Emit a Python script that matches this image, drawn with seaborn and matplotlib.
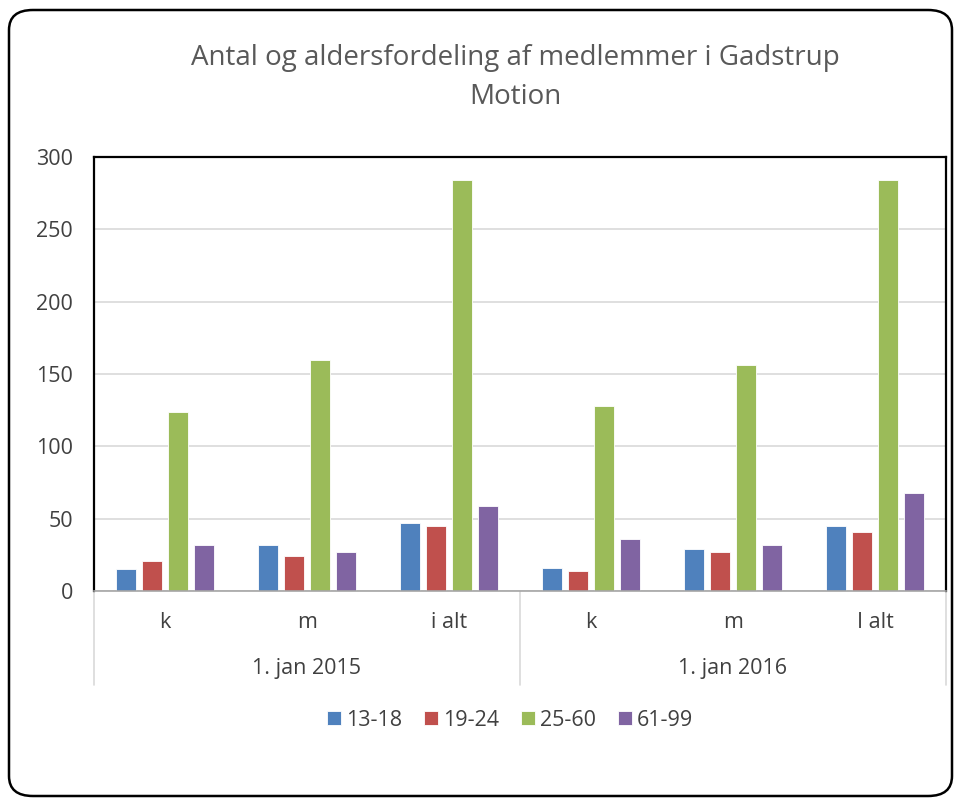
import pandas as pd
import matplotlib.pyplot as plt
import seaborn as sns
from matplotlib.patches import FancyBboxPatch
from matplotlib.lines import Line2D

# data
years = ['1. jan 2015', '1. jan 2016']
groups = ['k', 'm', 'i alt', 'k', 'm', 'I alt']
ages = ['13-18', '19-24', '25-60', '61-99']
v_13_18 = [15, 32, 47, 16, 29, 45]
v_19_24 = [21, 24, 45, 14, 27, 41]
v_25_60 = [124, 160, 284, 128, 156, 284]
v_61_99 = [32, 27, 59, 36, 32, 68]
colors = ['#4F81BD', '#C0504D', '#9BBB59', '#8064A2']

slots = [f'{i}' for i in range(len(groups))]
rows = []
for age, vals in zip(ages, [v_13_18, v_19_24, v_25_60, v_61_99]):
    for s, v in zip(slots, vals):
        rows.append({'slot': s, 'age': age, 'value': v})
df = pd.DataFrame(rows)

sns.set_style('white')
plt.rcParams['font.family'] = ['Open Sans', 'DejaVu Sans']

fig = plt.figure(figsize=(9.58, 7.98), dpi=100)
ax = fig.add_axes([94 / 958, 1 - 591 / 798, 852 / 958, 434 / 798])

sns.barplot(data=df, x='slot', y='value', hue='age', order=slots,
            palette=colors, saturation=1, width=0.73, gap=0.2, ax=ax,
            edgecolor='white', linewidth=0.6, legend=True)

ax.set_ylim(0, 300)
ax.set_yticks(range(0, 301, 50))
ax.yaxis.grid(True, color='#D9D9D9', linewidth=1.2)
ax.set_axisbelow(True)
ax.set_xlim(-0.5, len(groups) - 0.5)
ax.set_xticks(range(len(groups)))
ax.set_xticklabels(groups)
ax.tick_params(axis='x', length=0, pad=15, labelsize=15.5, labelcolor='#404040')
ax.tick_params(axis='y', length=0, pad=15, labelsize=15.5, labelcolor='#404040')
ax.set_xlabel('')
ax.set_ylabel('')
for side in ['top', 'left', 'right']:
    ax.spines[side].set_color('black')
    ax.spines[side].set_linewidth(1.6)
ax.spines['bottom'].set_color('#A6A6A6')
ax.spines['bottom'].set_linewidth(1.2)

# year labels and separators below the category labels
for i, year in enumerate(years):
    ax.text(1 + 3 * i, -0.178, year, transform=ax.get_xaxis_transform(),
            ha='center', va='center', fontsize=15.5, color='#404040')
for xpos in [-0.5, 2.5, 5.5]:
    ax.add_line(Line2D([xpos, xpos], [0, -0.216], transform=ax.get_xaxis_transform(),
                       color='#D9D9D9', linewidth=1.2, clip_on=False))

handles, labels = ax.get_legend_handles_labels()
ax.legend(handles, labels, loc='center', bbox_to_anchor=(510 / 958, 1 - 720 / 798),
          bbox_transform=fig.transFigure, ncol=4, frameon=False, fontsize=15.5,
          handlelength=0.65, handleheight=0.65, handletextpad=0.25, columnspacing=1.0,
          labelcolor='#404040')

fig.text(515 / 958, 1 - 58 / 798, 'Antal og aldersfordeling af medlemmer i Gadstrup',
         ha='center', va='center', fontsize=20, color='#595959')
fig.text(515 / 958, 1 - 97 / 798, 'Motion', ha='center', va='center',
         fontsize=20, color='#595959')

border = FancyBboxPatch((9 / 958, 1 - 796 / 798), 943 / 958, 786 / 798,
                        boxstyle='round,pad=0,rounding_size=0.025',
                        transform=fig.transFigure, fill=False,
                        edgecolor='black', linewidth=1.8)
fig.add_artist(border)

fig.savefig('out.png', dpi=100)
